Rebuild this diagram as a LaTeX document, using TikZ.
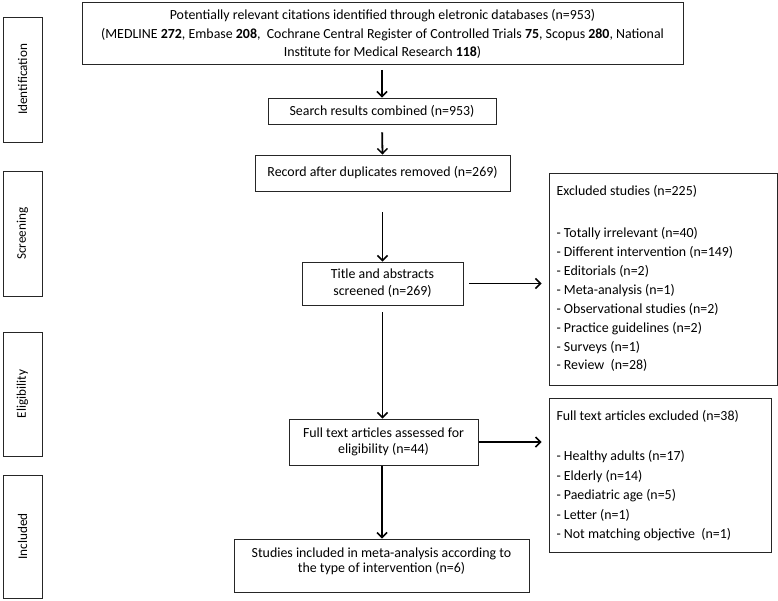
\documentclass[tikz,border=0pt]{standalone}
\usepackage{fontspec}
\setmainfont{Carlito}
\usetikzlibrary{arrows.meta}
\begin{document}
\begin{tikzpicture}[x=1pt,y=-1pt,
  box/.style={draw=black!85,line width=0.9pt,rectangle,inner sep=0pt,align=center},
  side/.style={box,minimum width=39pt},
  txt/.style={font=\fontsize{13.9}{18.5}\selectfont},
  flow/.style={-{Straight Barb[length=5pt,width=10pt,line width=1.5pt]},line width=1.8pt}]
\useasboundingbox (0,0) rectangle (778,601);
% side boxes
\node[side,minimum height=125pt] (sid) at (22.5,79.5) {};
\node[side,minimum height=125pt] (ssc) at (22.5,233.5) {};
\node[side,minimum height=124pt] (sel) at (22.5,394) {};
\node[side,minimum height=123pt] (sin) at (22.5,536.5) {};
\node[font=\fontsize{13.2}{16}\selectfont,rotate=90] (lid) at (sid) {Identification};
\node[font=\fontsize{13.2}{16}\selectfont,rotate=90] (lsc) at (ssc) {Screening};
\node[font=\fontsize{13.2}{16}\selectfont,rotate=90] (lel) at (sel) {Eligibility};
\node[font=\fontsize{13.2}{16}\selectfont,rotate=90] (lin) at (sin) {Included};
% main flow
\node[box,minimum width=601pt,minimum height=62pt] (top) at (382.5,33) {};
\node[txt,align=center,anchor=north] (toptxt) at (382.5,6) {Potentially relevant citations identified through eletronic databases (n=953)\\
(MEDLINE \textbf{272}, Embase \textbf{208},\ \ Cochrane Central Register of Controlled Trials \textbf{75}, Scopus \textbf{280}, National\\
Institute for Medical Research \textbf{118})};
\node[box,txt,minimum width=228pt,minimum height=26pt] (search) at (382,111) {Search results combined (n=953)};
\node[box,txt,minimum width=255pt,minimum height=36pt] (record) at (382.5,173) {Record after duplicates removed (n=269)};
\node[box,minimum width=161pt,minimum height=43pt,font=\fontsize{13.9}{17}\selectfont] (title) at (382.5,283.5) {Title and abstracts\\screened (n=269)};
\node[box,minimum width=189pt,minimum height=46pt,font=\fontsize{13.9}{16.5}\selectfont] (full) at (383.5,442) {Full text articles assessed for\\eligibility (n=44)};
\node[box,minimum width=295pt,minimum height=53pt] (stud) at (381.5,565.5) {};
\node[align=center,anchor=north,font=\fontsize{13.9}{15.5}\selectfont] (studtxt) at (381.5,544) {Studies included in meta-analysis according to\\the type of intervention (n=6)};
% excluded boxes
\node[box,minimum width=228pt,minimum height=212pt] (excl) at (663,279) {};
\node[align=left,anchor=north west,font=\fontsize{13.9}{18.9}\selectfont] (excltxt) at (553,182) {Excluded studies (n=225)\\[23pt]
- Totally irrelevant (n=40)\\
- Different intervention (n=149)\\
- Editorials (n=2)\\
- Meta-analysis (n=1)\\
- Observational studies (n=2)\\
- Practice guidelines (n=2)\\
- Surveys (n=1)\\
- Review\ \ (n=28)};
\node[box,minimum width=222pt,minimum height=154pt] (fexcl) at (660,475) {};
\node[align=left,anchor=north west,font=\fontsize{13.9}{19.5}\selectfont] (fexcltxt) at (553,407) {Full text articles excluded (n=38)\\[20.5pt]
- Healthy adults (n=17)\\
- Elderly (n=14)\\
- Paediatric age (n=5)\\
- Letter (n=1)\\
- Not matching objective\ \ (n=1)};
% arrows
\coordinate (c1) at (382,64);
\coordinate (c4) at (382,465);
\draw[flow,shorten <=6pt] (c1) -- (c1 |- search.north);
\draw[flow,shorten <=8pt] (search.south) -- (record.north);
\draw[flow,shorten <=21pt] (record.south) -- (record.south |- title.north);
\draw[flow,shorten <=7pt] (title.south) -- (title.south |- full.north);
\draw[flow,shorten <=1pt] (c4) -- (c4 |- stud.north);
\draw[flow,shorten <=6pt,shorten >=7pt] (title.east) -- (title.east -| excl.west);
\draw[flow,shorten <=1pt,shorten >=7pt] (full.east) -- (full.east -| fexcl.west);
\end{tikzpicture}
\end{document}
